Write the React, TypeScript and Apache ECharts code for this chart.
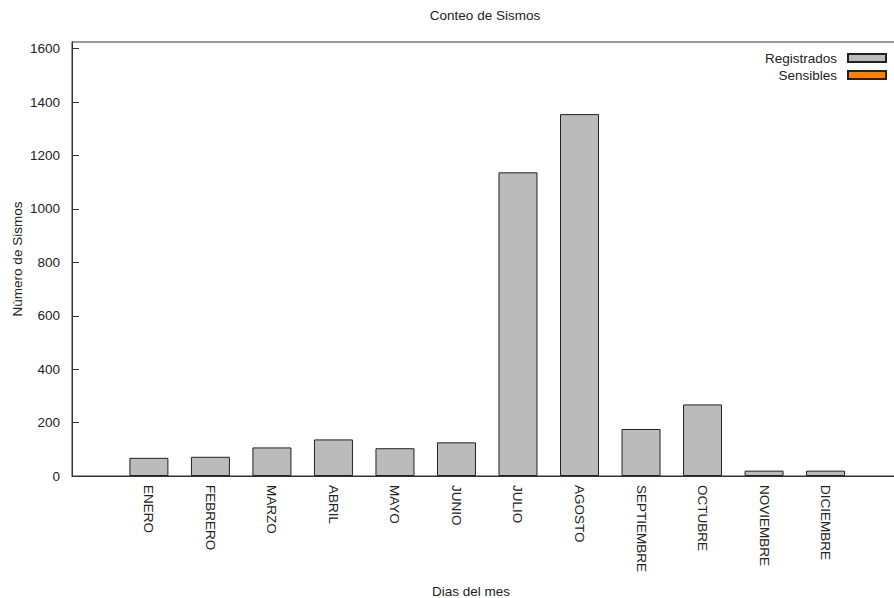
import React, { useEffect, useRef } from "react";
import * as echarts from "echarts";

const months = [
  "ENERO", "FEBRERO", "MARZO", "ABRIL", "MAYO", "JUNIO",
  "JULIO", "AGOSTO", "SEPTIEMBRE", "OCTUBRE", "NOVIEMBRE", "DICIEMBRE",
];
const registrados = [68, 72, 107, 137, 104, 126, 1137, 1355, 176, 268, 20, 20];
const sensibles: (number | null)[] = [null, null, null, null, null, null, null, null, null, null, null, null];
const yTicks = [0, 200, 400, 600, 800, 1000, 1200, 1400, 1600];
const monthPositions = months.map((_, i) => i);

const FONT = "Liberation Sans";
const FS = 13.5;
const EXTRA = 30; // chart canvas runs past the right edge of the window

export default function App() {
  const ref = useRef<HTMLDivElement>(null);
  useEffect(() => {
    if (!ref.current) return;
    const chart = echarts.init(ref.current, undefined, { renderer: "svg" });
    chart.setOption({
      animation: false,
      backgroundColor: "#ffffff",
      textStyle: { fontFamily: FONT },
      grid: {
        left: 72,
        right: 0,
        top: 42,
        bottom: 122,
        show: true,
        borderColor: "#333",
        borderWidth: 1,
      },
      legend: {
        orient: "vertical",
        right: 2 + EXTRA,
        top: 46,
        align: "right",
        itemWidth: 38,
        itemHeight: 8,
        itemGap: 3,
        icon: "rect",
        textStyle: { fontFamily: FONT, fontSize: FS, color: "#222", padding: [0, 6, 0, 0] },
        data: ["Registrados", "Sensibles"],
      },
      graphic: [
        {
          type: "text",
          x: 485,
          y: 15,
          style: {
            text: "Conteo de Sismos",
            fontFamily: FONT,
            fontSize: FS,
            fill: "#222",
            align: "center",
            verticalAlign: "middle",
          },
        },
        {
          type: "text",
          x: 471,
          y: 591,
          style: {
            text: "Dias del mes",
            fontFamily: FONT,
            fontSize: FS,
            fill: "#222",
            align: "center",
            verticalAlign: "middle",
          },
        },
        {
          type: "text",
          x: 17,
          y: 259,
          rotation: Math.PI / 2,
          style: {
            text: "Número de Sismos",
            fontFamily: FONT,
            fontSize: FS,
            fill: "#222",
            align: "center",
            verticalAlign: "middle",
          },
        },
      ],
      xAxis: {
        type: "value",
        min: -1.25,
        max: 12.6,
        splitLine: { show: false },
        axisLine: { show: true, onZero: false, lineStyle: { color: "#333", width: 1 } },
        axisTick: { show: false },
        axisLabel: {
          customValues: monthPositions,
          formatter: (v: number) => months[Math.round(v)] ?? "",
          rotate: -90,
          margin: 9,
          fontFamily: FONT,
          fontSize: FS,
          color: "#222",
        },
      },
      yAxis: {
        type: "value",
        min: 0,
        max: 1625,
        splitLine: { show: false },
        axisLine: { show: true, onZero: false, lineStyle: { color: "#333", width: 1 } },
        axisTick: {
          show: true,
          inside: true,
          length: 7,
          customValues: yTicks,
          lineStyle: { color: "#333" },
        },
        axisLabel: {
          customValues: yTicks,
          formatter: (v: number) => String(v),
          margin: 12,
          fontFamily: FONT,
          fontSize: FS,
          color: "#222",
        },
      },
      series: [
        {
          name: "Registrados",
          type: "bar",
          stack: "total",
          barWidth: 39,
          itemStyle: { color: "#bbbbbb", borderColor: "#222", borderWidth: 1 },
          data: registrados.map((v, i) => [i, v]),
        },
        {
          name: "Sensibles",
          type: "bar",
          stack: "total",
          barWidth: 39,
          itemStyle: { color: "#ff7f00", borderColor: "#222", borderWidth: 1 },
          data: sensibles.map((v, i) => [i, v]),
        },
      ],
    });
    return () => chart.dispose();
  }, []);
  return (
    <div
      ref={ref}
      style={{ position: "fixed", left: 0, top: 0, width: 894 + EXTRA, height: 598 }}
    />
  );
}
